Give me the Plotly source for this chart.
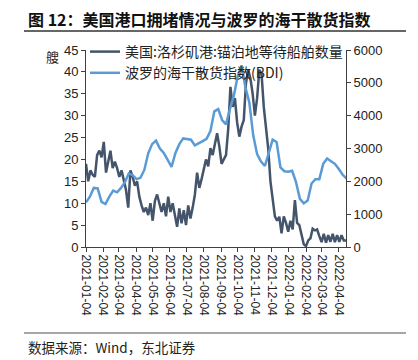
import pandas as pd
import plotly.graph_objects as go

# ---- data ----
ships_start = "2021-01-04"
ships_step_days = 4
ships = [19, 15, 17.5, 16.5, 16, 21, 22, 20.5, 24, 17,
         19.5, 22, 18, 19.5, 18, 16, 17.5, 15.5, 13, 9,
         17.5, 16, 14, 15, 11.5, 9.5, 8, 9, 7.3, 10,
         6, 10.5, 12, 10, 8, 10, 7, 11.5, 8, 10,
         7, 4.6, 8.8, 5.4, 8.4, 5, 9.5, 6.5, 9, 12,
         17, 13.5, 15.5, 17.5, 20, 18.4, 22.6, 21, 24, 26,
         23, 19, 20, 21, 27, 36.6, 32, 34, 28.5, 25.2,
         27.5, 29, 37.5, 40.5, 38.5, 35, 30, 34, 40.5, 39.5,
         32, 27, 22.5, 15, 10.5, 7, 6, 6.9, 3.1, 7,
         5.5, 3.5, 6, 4, 10.7, 5.5, 5, 3, 0.6, 0.2,
         1.5, 2, 4.2, 3.8, 4, 2.5, 1.1, 3, 1, 2.7,
         1.2, 3, 1.1, 2.7, 1.2, 2.7, 1.5, 1.5]

bdi_start = "2021-01-04"
bdi_step_days = 7
bdi = [1360, 1533, 1800, 1787, 1373, 1307, 1533, 1720, 1667, 1800,
       1973, 2240, 2187, 2067, 2107, 2347, 2853, 3133, 3240, 3000,
       2867, 2667, 2440, 2867, 3133, 3307, 3293, 3267, 3093, 3173,
       3227, 3293, 3533, 4133, 4200, 3867, 3733, 4200, 4600, 5200,
       5533, 4867, 4400, 3400, 2827, 2600, 2467, 2867, 3267, 3200,
       2427, 2307, 2293, 2320, 1973, 1467, 1333, 1413, 1933, 2067,
       2067, 2533, 2693, 2613, 2533, 2373, 2200, 2080]

tick_dates = ["2021-01-04", "2021-02-04", "2021-03-04", "2021-04-04", "2021-05-04",
              "2021-06-04", "2021-07-04", "2021-08-04", "2021-09-04", "2021-10-04",
              "2021-11-04", "2021-12-04", "2022-01-04", "2022-02-04", "2022-03-04",
              "2022-04-04"]
tick_labels = list(tick_dates)

x_range = ["2021-01-04", "2022-04-17"]

name_ships = "美国:洛杉矶港:锚泊地等待船舶数量"
name_bdi = "波罗的海干散货指数(BDI)"
title_text = "图 12：美国港口拥堵情况与波罗的海干散货指数"
source_text = "数据来源：Wind，东北证券"
unit_text = "艘"

# ---- figure ----
OFF = 8                      # page body margin of the html
W, H = 418 - OFF, 360 - OFF  # figure size so that it fits the window
L, R, T, B = 86, 346, 50, 247  # plot area in screen pixels


def px(x):
    return (x - L) / (R - L)


def py(y):
    return (B - y) / (B - T)


ships_x = pd.date_range(ships_start, periods=len(ships), freq=f"{ships_step_days}D")
bdi_x = pd.date_range(bdi_start, periods=len(bdi), freq=f"{bdi_step_days}D")

CJK = "Noto Sans CJK SC"
NUM = "Liberation Sans"

fig = go.Figure()
fig.add_trace(go.Scatter(x=ships_x, y=ships, name=name_ships, mode="lines",
                         line=dict(color="#44546A", width=2.5), yaxis="y"))
fig.add_trace(go.Scatter(x=bdi_x, y=bdi, name=name_bdi, mode="lines",
                         line=dict(color="#5B9BD5", width=2.5), yaxis="y2"))

axis_col = "#404040"
fig.update_layout(
    width=W, height=H,
    margin=dict(l=L - OFF, r=418 - R, t=T - OFF, b=360 - B, pad=0, autoexpand=False),
    paper_bgcolor="white", plot_bgcolor="white",
    showlegend=True,
    legend=dict(xref="container", yref="container",
                x=(85 - OFF) / W, y=1 - (36 - OFF) / H, xanchor="left", yanchor="top",
                bgcolor="rgba(0,0,0,0)", borderwidth=0,
                font=dict(family=CJK, size=14, color="#222222"),
                tracegroupgap=0, itemwidth=30),
    xaxis=dict(type="date", range=x_range, tickmode="array",
               tickvals=tick_dates, ticktext=tick_labels, tickangle=90,
               ticks="outside", ticklen=4, tickcolor=axis_col, automargin=False,
               showline=True, linecolor=axis_col, linewidth=1,
               showgrid=False, zeroline=False,
               tickfont=dict(family=NUM, size=12, color="#222222")),
    yaxis=dict(range=[0, 45], dtick=5, tick0=0, ticks="outside", ticklen=4,
               tickcolor=axis_col, showline=True, linecolor=axis_col, linewidth=1,
               showgrid=False, zeroline=False, automargin=False,
               tickfont=dict(family=NUM, size=13, color="#222222")),
    yaxis2=dict(range=[0, 6000], dtick=1000, tick0=0, overlaying="y", side="right",
                ticks="outside", ticklen=4, tickcolor=axis_col, automargin=False,
                showline=True, linecolor=axis_col, linewidth=1,
                showgrid=False, zeroline=False,
                tickfont=dict(family=NUM, size=13, color="#222222")),
)

fig.add_annotation(text=f"<b>{title_text}</b>", xref="paper", yref="paper",
                   x=px(26), y=py(19), xanchor="left", yanchor="middle",
                   showarrow=False, font=dict(family=CJK, size=16, color="#111111"))
fig.add_annotation(text=source_text, xref="paper", yref="paper",
                   x=px(26), y=py(347), xanchor="left", yanchor="middle",
                   showarrow=False, font=dict(family=CJK, size=13.5, color="#222222"))
fig.add_annotation(text=unit_text, xref="paper", yref="paper",
                   x=px(52), y=py(56), xanchor="center", yanchor="middle",
                   showarrow=False, font=dict(family=CJK, size=13, color="#222222"))

fig.add_shape(type="line", xref="paper", yref="paper",
              x0=px(24), x1=px(406), y0=py(31), y1=py(31),
              line=dict(color="#333333", width=1.5))
fig.add_shape(type="line", xref="paper", yref="paper",
              x0=px(24), x1=px(406), y0=py(333), y1=py(333),
              line=dict(color="#888888", width=1.5))

fig.write_html("out.html")
